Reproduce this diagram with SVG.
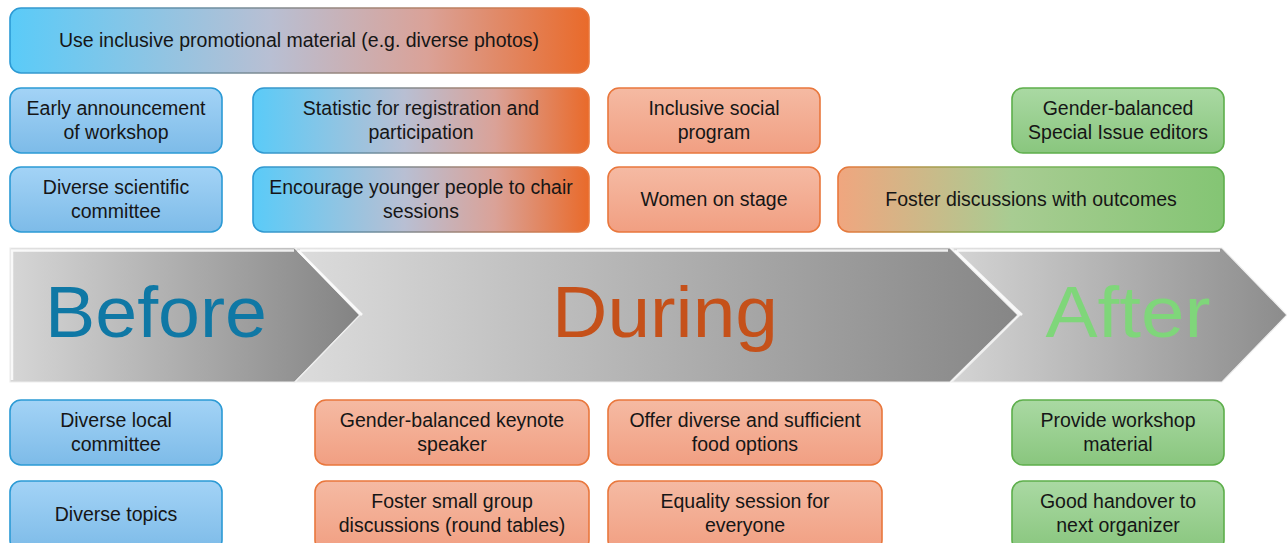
<svg xmlns="http://www.w3.org/2000/svg" width="1287" height="543" viewBox="0 0 1287 543">
<defs>
<linearGradient id="gBlue" x1="0" y1="0" x2="0" y2="1"><stop offset="0" stop-color="#a3d3f6"/><stop offset="1" stop-color="#7dbbe8"/></linearGradient>
<linearGradient id="gOrange" x1="0" y1="0" x2="0" y2="1"><stop offset="0" stop-color="#f5baa3"/><stop offset="1" stop-color="#f19f82"/></linearGradient>
<linearGradient id="gGreen" x1="0" y1="0" x2="0" y2="1"><stop offset="0" stop-color="#aad9a3"/><stop offset="1" stop-color="#89c67e"/></linearGradient>
<linearGradient id="gBO" x1="0" y1="0" x2="1" y2="0"><stop offset="0" stop-color="#5acbf8"/><stop offset="0.45" stop-color="#b8bfd3"/><stop offset="0.72" stop-color="#daa298"/><stop offset="1" stop-color="#e96a2a"/></linearGradient>
<linearGradient id="sBO" x1="0" y1="0" x2="1" y2="0"><stop offset="0" stop-color="#2b9ad5"/><stop offset="1" stop-color="#e9773c"/></linearGradient>
<linearGradient id="gOG" x1="0" y1="0" x2="1" y2="0"><stop offset="0" stop-color="#f0a67f"/><stop offset="0.45" stop-color="#a8cc92"/><stop offset="1" stop-color="#84c574"/></linearGradient>
<linearGradient id="sOG" x1="0" y1="0" x2="1" y2="0"><stop offset="0" stop-color="#e9773c"/><stop offset="0.4" stop-color="#7fb35a"/><stop offset="1" stop-color="#5daf4b"/></linearGradient>
<linearGradient id="aBefore" x1="0" y1="0" x2="1" y2="0"><stop offset="0" stop-color="#d6d6d6"/><stop offset="1" stop-color="#838383"/></linearGradient>
<linearGradient id="aDuring" x1="0" y1="0" x2="1" y2="0"><stop offset="0" stop-color="#dcdcdc"/><stop offset="1" stop-color="#868686"/></linearGradient>
<linearGradient id="aAfter" x1="0" y1="0" x2="1" y2="0"><stop offset="0" stop-color="#d4d4d4"/><stop offset="1" stop-color="#8c8c8c"/></linearGradient>
</defs>
<style>
.box{stroke-width:1.6}
.blue{fill:url(#gBlue);stroke:#2b9ad5}
.orange{fill:url(#gOrange);stroke:#e9773c}
.green{fill:url(#gGreen);stroke:#5daf4b}
.bo{fill:url(#gBO);stroke:url(#sBO)}
.og{fill:url(#gOG);stroke:url(#sOG)}
.t{font-family:"Liberation Sans",Arial,sans-serif;font-size:19.5px;fill:#161616;text-anchor:middle}
.big{font-family:"Liberation Sans",Arial,sans-serif;font-size:73px;text-anchor:middle}
.hl{fill:none;stroke:#ffffff;stroke-opacity:0.85;stroke-width:2.5}
.edge{stroke:#eeeeee;stroke-width:1.2}
</style>
<rect width="1287" height="543" fill="#ffffff"/>

<g id="phases">
<g id="phase-before">
<polygon class="edge" points="10,248 295,248 360,315 295,382 10,382" fill="url(#aBefore)"/>
<polyline class="hl" points="12,380 12,250.5 294,250.5"/>
<text class="big" x="156" y="337" fill="#0f78a5" textLength="222" lengthAdjust="spacingAndGlyphs">Before</text>
</g>
<g id="phase-during">
<polygon class="edge" points="295,248 950,248 1018,315 950,382 295,382 360,315" fill="url(#aDuring)"/>
<polyline class="hl" points="298,250.5 362,315"/>
<polyline class="hl" points="300,250.5 948,250.5"/>
<text class="big" x="665" y="337" fill="#c5511a" textLength="226" lengthAdjust="spacingAndGlyphs">During</text>
</g>
<g id="phase-after">
<polygon class="edge" points="952,248 1222,248 1287,315 1222,382 952,382 1020,315" fill="url(#aAfter)"/>
<polyline class="hl" points="955,250.5 1022,315"/>
<polyline class="hl" points="957,250.5 1220,250.5"/>
<text class="big" x="1128" y="337" fill="#7fd67a" textLength="165" lengthAdjust="spacingAndGlyphs">After</text>
</g>
</g>

<g id="connectors"></g>

<g id="n-promo"><rect class="box bo" x="10" y="8" width="579" height="65" rx="11"/><text class="t" x="299" y="47">Use inclusive promotional material (e.g. diverse photos)</text></g>

<g id="n-early"><rect class="box blue" x="10" y="88" width="212" height="65" rx="11"/><text class="t" x="116" y="115">Early announcement</text><text class="t" x="116" y="139">of workshop</text></g>
<g id="n-statistic"><rect class="box bo" x="253" y="88" width="336" height="65" rx="11"/><text class="t" x="421" y="115">Statistic for registration and</text><text class="t" x="421" y="139">participation</text></g>
<g id="n-social"><rect class="box orange" x="608" y="88" width="212" height="65" rx="11"/><text class="t" x="714" y="115">Inclusive social</text><text class="t" x="714" y="139">program</text></g>
<g id="n-editors"><rect class="box green" x="1012" y="88" width="212" height="65" rx="11"/><text class="t" x="1118" y="115">Gender-balanced</text><text class="t" x="1118" y="139">Special Issue editors</text></g>

<g id="n-scicom"><rect class="box blue" x="10" y="167" width="212" height="65" rx="11"/><text class="t" x="116" y="194">Diverse scientific</text><text class="t" x="116" y="218">committee</text></g>
<g id="n-younger"><rect class="box bo" x="253" y="167" width="336" height="65" rx="11"/><text class="t" x="421" y="194">Encourage younger people to chair</text><text class="t" x="421" y="218">sessions</text></g>
<g id="n-women"><rect class="box orange" x="608" y="167" width="212" height="65" rx="11"/><text class="t" x="714" y="206">Women on stage</text></g>
<g id="n-outcomes"><rect class="box og" x="838" y="167" width="386" height="65" rx="11"/><text class="t" x="1031" y="206">Foster discussions with outcomes</text></g>

<g id="n-localcom"><rect class="box blue" x="10" y="400" width="212" height="65" rx="11"/><text class="t" x="116" y="427">Diverse local</text><text class="t" x="116" y="451">committee</text></g>
<g id="n-keynote"><rect class="box orange" x="315" y="400" width="274" height="65" rx="11"/><text class="t" x="452" y="427">Gender-balanced keynote</text><text class="t" x="452" y="451">speaker</text></g>
<g id="n-food"><rect class="box orange" x="608" y="400" width="274" height="65" rx="11"/><text class="t" x="745" y="427">Offer diverse and sufficient</text><text class="t" x="745" y="451">food options</text></g>
<g id="n-material"><rect class="box green" x="1012" y="400" width="212" height="65" rx="11"/><text class="t" x="1118" y="427">Provide workshop</text><text class="t" x="1118" y="451">material</text></g>

<g id="n-topics"><rect class="box blue" x="10" y="481" width="212" height="70" rx="11"/><text class="t" x="116" y="521">Diverse topics</text></g>
<g id="n-roundtables"><rect class="box orange" x="315" y="481" width="274" height="70" rx="11"/><text class="t" x="452" y="508">Foster small group</text><text class="t" x="452" y="532">discussions (round tables)</text></g>
<g id="n-equality"><rect class="box orange" x="608" y="481" width="274" height="70" rx="11"/><text class="t" x="745" y="508">Equality session for</text><text class="t" x="745" y="532">everyone</text></g>
<g id="n-handover"><rect class="box green" x="1012" y="481" width="212" height="70" rx="11"/><text class="t" x="1118" y="508">Good handover to</text><text class="t" x="1118" y="532">next organizer</text></g>
</svg>
